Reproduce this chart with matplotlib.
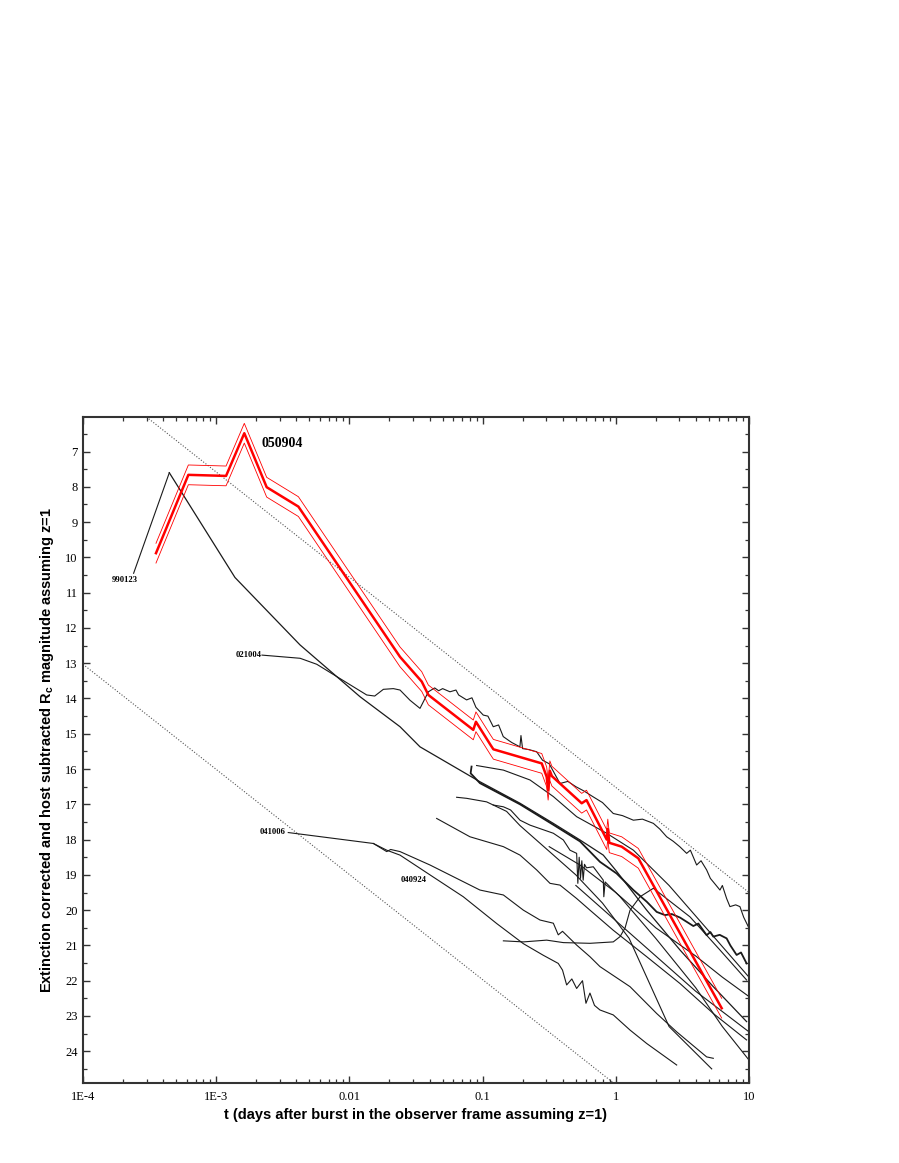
import numpy as np
import matplotlib
matplotlib.use("Agg")
import matplotlib.pyplot as plt
from matplotlib.ticker import FixedLocator, FixedFormatter, NullFormatter

# ---------------- data (log10 of t in days, R_c magnitude) ----------------
grb050904_logt = [-3.452, -3.209, -2.926, -2.789, -2.621, -2.383, -1.62, -1.457, -1.407,
                  -1.07, -1.05, -0.94, -0.919, -0.556, -0.519, -0.508, -0.495, -0.48,
                  -0.256, -0.22, -0.068, -0.06, -0.049, 0.044, 0.169, 0.795]
grb050904_mag = [9.88, 7.66, 7.69, 6.48, 8.01, 8.56, 12.82, 13.52, 13.9,
                 14.89, 14.66, 15.32, 15.44, 15.84, 16.22, 16.6, 16.05, 16.2,
                 16.97, 16.88, 18.0, 17.7, 18.09, 18.2, 18.53, 22.78]
grb050904_err = 0.28

grb990123_logt = [-3.352, -2.859, -2.371, -1.92, -1.62, -1.47, -1.02, -0.719, -0.469,
                  -0.269, -0.094, 0.006, 0.232, 0.482, 0.732, 0.982]
grb990123_mag = [7.6, 10.57, 12.48, 13.95, 14.8, 15.37, 16.36, 16.97, 17.54,
                 18.01, 18.44, 18.9, 20.0, 21.13, 22.17, 23.16]

grb021004_logt = [-2.656, -2.37, -2.245, -1.87, -1.81, -1.745, -1.67, -1.62, -1.545, -1.47,
                  -1.407, -1.36, -1.33, -1.3, -1.245, -1.2, -1.18, -1.12, -1.08, -1.05, -0.995,
                  -0.96, -0.92, -0.88, -0.845, -0.80, -0.78, -0.72, -0.712, -0.70, -0.65,
                  -0.594, -0.55, -0.50, -0.419, -0.36, -0.3, -0.24, -0.169, -0.10, -0.019,
                  0.05, 0.132, 0.20, 0.282, 0.33, 0.382, 0.432, 0.48, 0.532, 0.56, 0.607,
                  0.64, 0.682, 0.71, 0.732, 0.782, 0.80, 0.832, 0.857, 0.90, 0.932, 0.96, 0.995]
grb021004_mag = [12.77, 12.86, 13.03, 13.9, 13.93, 13.74, 13.72, 13.76, 14.05, 14.28,
                 13.81, 13.7, 13.78, 13.72, 13.81, 13.76, 13.9, 14.04, 13.98, 14.25, 14.47,
                 14.5, 14.8, 14.75, 15.08, 15.2, 15.25, 15.37, 15.05, 15.42, 15.45,
                 15.51, 15.75, 15.85, 16.41, 16.35, 16.5, 16.62, 16.79, 16.95, 17.26,
                 17.32, 17.45, 17.42, 17.54, 17.7, 17.92, 18.05, 18.2, 18.39, 18.3, 18.72,
                 18.6, 18.86, 19.1, 19.2, 19.43, 19.3, 19.67, 19.9, 19.85, 19.9, 20.2, 20.47]

grb041006_logt = [-2.459, -1.82, -1.72, -1.69, -1.62, -1.395, -1.02, -0.844, -0.694, -0.569,
                  -0.469, -0.432, -0.40, -0.294, -0.194, -0.119, 0.107, 0.307, 0.457, 0.682, 0.732]
grb041006_mag = [17.8, 18.11, 18.34, 18.28, 18.34, 18.72, 19.43, 19.57, 20.0, 20.28,
                 20.37, 20.7, 20.6, 20.99, 21.32, 21.6, 22.17, 22.93, 23.45, 24.16, 24.2]

grb040924_logt = [-1.82, -1.72, -1.62, -1.395, -1.145, -0.894, -0.694, -0.544, -0.432, -0.40,
                  -0.369, -0.33, -0.294, -0.25, -0.224, -0.194, -0.16, -0.119, -0.019,
                  0.107, 0.232, 0.457]
grb040924_mag = [18.11, 18.3, 18.44, 19.0, 19.62, 20.38, 20.95, 21.28, 21.51, 21.7,
                 22.12, 21.95, 22.22, 22.0, 22.64, 22.35, 22.7, 22.83, 22.97,
                 23.4, 23.78, 24.39]

grb030329_logt = [-1.083, -1.09, -1.02, -0.719, -0.469, -0.269, -0.119, 0.006, 0.132, 0.232,
                  0.307, 0.369, 0.42, 0.482, 0.582, 0.62, 0.682, 0.71, 0.732, 0.78, 0.832,
                  0.86, 0.907, 0.94, 0.982]
grb030329_mag = [15.93, 16.12, 16.4, 17.0, 17.58, 18.05, 18.63, 18.96, 19.43, 19.76,
                 20.05, 20.14, 20.11, 20.21, 20.45, 20.38, 20.71, 20.62, 20.75, 20.7, 20.8,
                 21.0, 21.27, 21.2, 21.51]

arc_logt = [-1.045, -0.844, -0.644, -0.469, -0.294, -0.069, 0.132, 0.4, 0.7, 1.0]
arc_mag = [15.9, 16.03, 16.31, 16.78, 17.35, 17.82, 18.3, 19.3, 20.6, 21.9]

noisy_logt = [-1.195, -1.12, -0.97, -0.92, -0.844, -0.79, -0.719, -0.644, -0.469, -0.394,
              -0.344, -0.294, -0.285, -0.275, -0.265, -0.255, -0.245, -0.235, -0.22,
              -0.169, -0.094, -0.09, -0.08, 0.032, 0.3, 0.6, 0.8, 1.0]
noisy_mag = [16.8, 16.83, 16.93, 17.02, 17.07, 17.16, 17.45, 17.59, 17.82, 18.01,
             18.3, 18.39, 19.24, 18.5, 19.1, 18.6, 19.15, 18.7, 18.8,
             18.77, 19.15, 19.62, 19.2, 19.62, 20.8, 22.2, 23.3, 24.25]

steep_logt = [-0.92, -0.82, -0.72, -0.6, -0.45, -0.3, -0.1, 0.1, 0.4, 0.72]
steep_mag = [17.02, 17.2, 17.6, 18.0, 18.5, 19.0, 19.8, 20.8, 23.3, 24.5]

zcurve_logt = [-1.345, -1.095, -0.844, -0.719, -0.594, -0.494, -0.419, -0.294, -0.194,
               -0.019, 0.232, 0.482, 0.732, 0.982]
zcurve_mag = [17.4, 17.92, 18.2, 18.44, 18.86, 19.24, 19.29, 19.67, 20.0,
              20.57, 21.32, 22.08, 22.93, 23.68]

plateau_logt = [-0.844, -0.694, -0.519, -0.394, -0.194, -0.019, 0.032, 0.07, 0.107, 0.182,
                0.282, 0.557, 0.782, 0.982]
plateau_mag = [20.87, 20.9, 20.85, 20.92, 20.94, 20.9, 20.75, 20.5, 20.0, 19.62,
               19.38, 20.19, 21.13, 21.98]

mid1_logt = [-0.5, -0.269, 0.0, 0.3, 0.6, 0.8, 1.0]
mid1_mag = [18.2, 18.72, 19.5, 20.5, 21.3, 21.9, 22.45]

mid2_logt = [-0.3, 0.0, 0.3, 0.6, 1.0]
mid2_mag = [19.3, 20.3, 21.3, 22.3, 23.45]

# power-law guide lines (dotted)
guide_logt = [-4.0, 1.0]
guide_upper_mag = [4.60, 19.50]
guide_lower_mag = [13.03, 27.93]

# labels
burst_labels = ["990123", "021004", "041006", "040924"]
burst_label_logt = [-3.685, -2.754, -2.58, -1.52]
burst_label_mag = [10.64, 12.77, 17.79, 19.15]
leader_990123_logt = [-3.62, -3.352]
leader_990123_mag = [10.45, 7.6]

xtick_values = [1e-4, 1e-3, 1e-2, 1e-1, 1, 10]
xtick_labels = ["1E-4", "1E-3", "0.01", "0.1", "1", "10"]
ytick_values = list(range(7, 25))

# ---------------- plotting ----------------
W, H = 899, 1163
fig = plt.figure(figsize=(W / 100, H / 100), dpi=100)
L, R, T, B = 83, 749, 417, 1083
ax = fig.add_axes([L / W, 1 - B / H, (R - L) / W, (B - T) / H])
ax.set_xscale("log")
ax.set_xlim(1e-4, 10)
ax.set_ylim(24.9, 6.02)

def tt(lst):
    return 10 ** np.asarray(lst, dtype=float)

# guides
for gm in (guide_upper_mag, guide_lower_mag):
    ax.plot(tt(guide_logt), gm, color="#555555", lw=0.8, ls=(0, (1, 1.6)), zorder=1)

black = "#1a1a1a"
curves = [
    (grb990123_logt, grb990123_mag, 0.9),
    (grb021004_logt, grb021004_mag, 0.8),
    (grb041006_logt, grb041006_mag, 0.8),
    (grb040924_logt, grb040924_mag, 0.8),
    (grb030329_logt, grb030329_mag, 1.3),
    (arc_logt, arc_mag, 0.8),
    (noisy_logt, noisy_mag, 0.8),
    (steep_logt, steep_mag, 0.8),
    (zcurve_logt, zcurve_mag, 0.8),
    (plateau_logt, plateau_mag, 0.8),
    (mid1_logt, mid1_mag, 0.8),
    (mid2_logt, mid2_mag, 0.8),
]
for lt, m, lw in curves:
    ax.plot(tt(lt), m, color=black, lw=lw, zorder=2)

ax.plot(tt(leader_990123_logt), leader_990123_mag, color=black, lw=0.8, zorder=2)

# 050904 in red with error band
m5 = np.asarray(grb050904_mag)
t5 = tt(grb050904_logt)
ax.plot(t5, m5, color="#ff0000", lw=1.8, zorder=4)
ax.plot(t5, m5 - grb050904_err, color="#ff0000", lw=0.6, zorder=4)
ax.plot(t5, m5 + grb050904_err, color="#ff0000", lw=0.6, zorder=4)

# labels
serif = ["Liberation Serif", "DejaVu Serif"]
for lab, lx, ly in zip(burst_labels, burst_label_logt, burst_label_mag):
    ax.text(10 ** lx, ly, lab, family=serif, fontweight="bold", fontsize=6.2,
            ha="center", va="center", zorder=5)
ax.text(10 ** -2.506, 6.76, "050904", family=serif, fontweight="bold", fontsize=10,
        ha="center", va="center", zorder=5)

# ticks
ax.xaxis.set_major_locator(FixedLocator(xtick_values))
ax.xaxis.set_major_formatter(FixedFormatter(xtick_labels))
minor_x = [k * 10.0 ** e for e in range(-4, 1) for k in range(2, 10)]
ax.xaxis.set_minor_locator(FixedLocator(minor_x))
ax.xaxis.set_minor_formatter(NullFormatter())
ax.yaxis.set_major_locator(FixedLocator(ytick_values))
ax.yaxis.set_minor_locator(FixedLocator([v + 0.5 for v in range(6, 25)]))
ax.tick_params(which="both", direction="in", top=True, right=True, color="#333333")
ax.tick_params(which="major", length=5, width=1.0, labelsize=9)
ax.tick_params(which="minor", length=3, width=0.9)
for lbl in ax.get_xticklabels() + ax.get_yticklabels():
    lbl.set_family(serif)
ax.tick_params(axis="x", pad=6)
ax.tick_params(axis="y", pad=4)
for sp in ax.spines.values():
    sp.set_linewidth(1.5)
    sp.set_color("#333333")

sans = ["Liberation Sans", "DejaVu Sans"]
ax.set_xlabel("t (days after burst in the observer frame assuming z=1)", family=sans,
              fontweight="bold", fontsize=10.5, labelpad=3)
ax.set_ylabel("Extinction corrected and host subtracted R$_\\mathregular{c}$ magnitude assuming z=1",
              family=sans, fontweight="bold", fontsize=10.5, labelpad=6)

fig.savefig("out.png", dpi=100)
